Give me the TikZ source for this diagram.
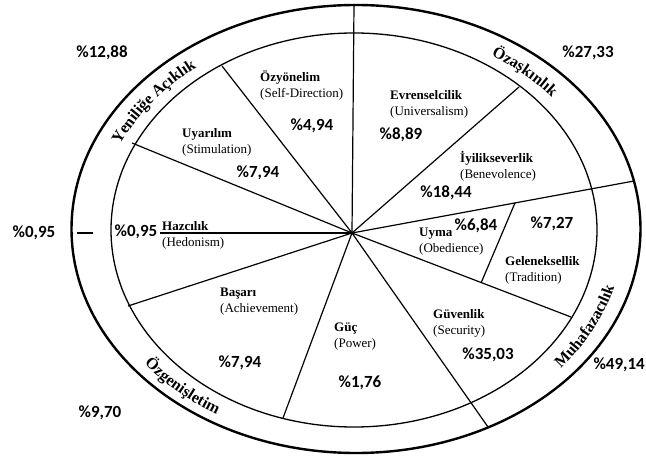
\documentclass[tikz,border=0pt]{standalone}
\usepackage{fontspec}
\setmainfont{Liberation Serif}
\newfontfamily\pctfont{Carlito}
\usetikzlibrary{calc}
\usetikzlibrary{positioning}
\usetikzlibrary{decorations.text}

\begin{document}
\begin{tikzpicture}[x=1pt,y=-1pt,every node/.style = {inner sep=0pt},
value/.style={font=\pctfont\bfseries\fontsize{17}{18}\selectfont},
kind/.style={align=left,anchor=west,font=\fontsize{13}{16}\selectfont},
group/.style={decorate,decoration={text along path,text align=center,
    text={|\bfseries\fontsize{16}{18}\selectfont|#1}}},
spoke/.style={line width=1.2pt}]
\useasboundingbox (0,0) rectangle (646,457);
\draw [line width=2.4pt] (356,229) ellipse [x radius=284.5, y radius=224];
\draw [line width=1.3pt] (354,230) ellipse [x radius=243, y radius=197];
\coordinate (O) at (352,233);
\coordinate (C) at (355,229.5);
\coordinate (top) at (354,5);
\coordinate (s1) at (222,66);
\coordinate (s2) at (132,143);
\coordinate (s3) at (160,233);
\coordinate (s4) at (128,306);
\coordinate (s5) at (283,418);
\coordinate (s6) at (488,427);
\coordinate (s7) at (571,317);
\coordinate (s8) at (634,181);
\coordinate (s9) at (519,87);
\draw [spoke] (O) -- (top);
\draw [spoke] (O) -- (s1);
\draw [spoke] (O) -- (s2);
\draw [spoke] (O) -- (s3);
\draw [spoke] (O) -- (s4);
\draw [spoke] (O) -- (s5);
\draw [spoke] (O) -- (s6);
\draw [spoke] (O) -- (s7);
\draw [spoke] (O) -- (s8);
\draw [spoke] (O) -- (s9);
\draw [spoke] ($(O)!.59!(s7)$) -- ($(O)!.578!(s8)$);
% values
\node [kind] (self) at (260,85) {\textbf{Özyönelim}\\(Self-Direction)};
\node [kind] (univ) at (390,104) {\textbf{Evrenselcilik}\\(Universalism)};
\node [kind] (bene) at (460,166.5) {\textbf{İyilikseverlik}\\(Benevolence)};
\node [kind] (stim) at (182,142) {\textbf{Uyarılım}\\(Stimulation)};
\node [kind] (hedo) at (162,235) {\textbf{Hazcılık}\\(Hedonism)};
\node [kind] (achi) at (220,302) {\textbf{Başarı}\\(Achievement)};
\node [kind] (powr) at (334,337) {\textbf{Güç}\\(Power)};
\node [kind] (secu) at (433,323) {\textbf{Güvenlik}\\(Security)};
\node [kind] (obed) at (419,241.5) {\textbf{Uyma}\\(Obedience)};
\node [kind] (trad) at (505,270) {\textbf{Geleneksellik}\\(Tradition)};
% percentages
\node [value] (pself) at (312,126) {\%4,94};
\node [value] (puniv) at (401,135) {\%8,89};
\node [value] (pbene) at (446,193) {\%18,44};
\node [value] (pstim) at (258,173) {\%7,94};
\node [value] (phedo) at (136,232) {\%0,95};
\node [value] (pachi) at (240,363) {\%7,94};
\node [value] (ppowr) at (360,383) {\%1,76};
\node [value] (psecu) at (488,355) {\%35,03};
\node [value] (pobed) at (476,226) {\%6,84};
\node [value] (ptrad) at (552,224) {\%7,27};
% groups, along the band
\path [group=Yeniliğe Açıklık] ($(C)+(187:258 and 205)$)
    arc [start angle=187, end angle=247, x radius=258, y radius=205];
\path [group=Özaşkınlık] ($(C)+(285:258 and 205)$)
    arc [start angle=285, end angle=339, x radius=258, y radius=205];
\path [group=Muhafazacılık] ($(C)+(58:269 and 216)$)
    arc [start angle=58, end angle=-5, x radius=269, y radius=216];
\path [group=Özgenişletim] ($(C)+(162:269 and 216)$)
    arc [start angle=162, end angle=103, x radius=269, y radius=216];
\node [value] (popen) at (102,53) {\%12,88};
\node [value] (ptrans) at (588,53) {\%27,33};
\node [value] (phed) at (34,233) {\%0,95};
\node [value] (penha) at (100,413) {\%9,70};
\node [value,anchor=east] (pcons) at (645,365) {\%49,14};
\coordinate (d1) at (77,233);
\coordinate (d2) at (93,233);
\draw [spoke] (d1) -- (d2);
\end{tikzpicture}
\end{document}
